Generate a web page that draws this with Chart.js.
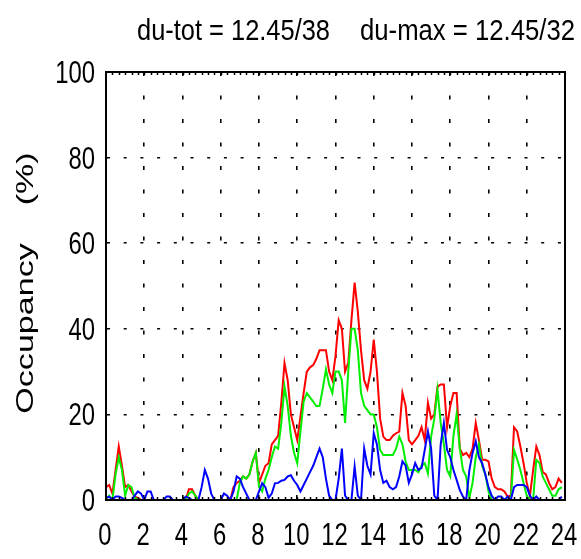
<!DOCTYPE html>
<html>
<head>
<meta charset="utf-8">
<script src="https://cdn.jsdelivr.net/npm/chart.js@4.4.1/dist/chart.umd.min.js"></script>
<style>
  html, body { margin: 0; padding: 0; background: #ffffff; }
  #occ { display: block; }
</style>
</head>
<body>
<canvas id="occ" width="581" height="559"></canvas>
<script>
// Header text and axis labels
const titleParts = ['du-tot = 12.45/38', 'du-max = 12.45/32'];
const yAxisTitle = 'Occupancy    (%)';
const xTickValues = [0, 2, 4, 6, 8, 10, 12, 14, 16, 18, 20, 22, 24];
const yTickValues = [0, 20, 40, 60, 80, 100];

// Samples every 10 minutes over the day (hour of day)
const sampleHours = Array.from({ length: 144 }, (_, i) => i / 6);

// Occupancy (%) per 10-minute sample, one row = 2 hours
const redSeries = [
  3, 3.5, 1.5, 7, 12.5, 8, 3, 3.5, 2, 0.8, 0.5, 0,
  0, 0, 0, 0, 0, 0, 0, 0, 0, 0, 0, 0,
  0, 0, 2.5, 2.5, 1, 0, 0, 0, 0, 0, 0, 0,
  0, 0, 0, 0, 3, 4, 4.5, 5.5, 5, 6, 9, 11,
  4, 6, 8, 8.6, 13, 14, 15, 22.7, 32, 28, 20, 17,
  14, 19.5, 25, 30, 31, 31.5, 33, 35, 35, 35, 30, 28,
  33.6, 42, 40, 30, 32, 42, 50.8, 44, 35, 28, 26, 30,
  37.5, 30, 19, 14.8, 14, 14, 15, 15.6, 16, 25, 22, 14,
  13, 14, 15, 17, 14, 22.7, 19, 20, 26.5, 27, 27, 17,
  22, 25, 25, 12, 10.5, 11, 10, 12, 18, 14, 9.4, 9.4,
  9, 5, 3, 2.5, 2.5, 2, 0.8, 1, 17, 16, 12.5, 8.6,
  4, 1, 7, 12.5, 10.5, 6.5, 6, 4, 2.5, 3, 5, 4
];
const greenSeries = [
  0, 1, 0, 6, 10, 7, 1, 3.5, 3, 0.5, 0, 0,
  0, 0, 0, 0, 0, 0, 0, 0, 0, 0, 0, 0,
  0, 0, 1.5, 2, 1, 0, 0, 0, 0, 0, 0, 0,
  0, 0, 0, 0, 0, 0, 4, 5.5, 5, 6, 9, 11,
  3, 2, 5, 7, 10, 12.5, 12, 18, 26.5, 22, 15, 11,
  8.6, 16, 23, 25, 24, 23, 21.9, 22, 26, 30.5, 27, 25,
  30, 30, 28, 18, 30, 40, 40, 35, 25, 22, 21, 20,
  20, 17, 11.7, 10.5, 10.5, 10.5, 10.5, 12, 14.8, 13, 9, 7,
  7, 7, 6.5, 8, 8.6, 6.2, 14.8, 19, 25.8, 18, 13, 7,
  5.5, 15, 20, 12, 7, 5.5, 0.5, 4, 10, 13, 8, 6,
  2, 0, 0, 0, 0, 0, 0, 0, 11.7, 9.5, 7, 4,
  1, 0, 0, 9.4, 8.6, 5.5, 4, 2.5, 1, 1, 2.5, 3
];
const blueSeries = [
  0.5, 0.8, 0, 0.8, 0.8, 0.5, 0, 0, 0, 1, 2, 1.5,
  0, 2, 2, 0, 0, 0, 0, 0.8, 0.8, 0, 0, 0,
  0, 0.8, 0.5, 0, 0, 0, 3, 7, 5, 1.5, 0, 0,
  0, 1.5, 1, 0, 2, 5.5, 5, 3, 1.5, 0, 0, 0,
  2, 3.9, 3, 0.5, 1.5, 3.9, 4, 4.5, 4.7, 5.5, 5.8, 4.5,
  3.5, 2, 3.5, 5, 6.5, 8, 10, 12, 10, 5, 1, 0,
  0, 5, 12, 1, 0, 0, 7.8, 1, 0, 12, 8, 6,
  15.6, 13, 7, 4, 4.5, 3, 2.5, 3, 5.5, 9, 8, 4,
  6, 8.6, 7, 7.5, 11.7, 16, 12, 1, 0, 13, 18, 11.7,
  10, 7, 4.7, 2.3, 0.8, 0, 7, 11, 13.7, 10, 8.6, 6,
  3, 1, 0, 0.8, 0.8, 0, 0.8, 0, 3, 3.5, 3.5, 3.5,
  3, 1, 0, 0.8, 0, 0, 0, 0, 0, 0, 0, 0.8
];

const textFont = "'Liberation Sans', Arimo, Arial, sans-serif";
const toPoints = (vals) => vals.map((v, i) => ({ x: sampleHours[i], y: v }));

// Tall, narrow text: draw with a horizontal squeeze factor
function squeezedText(ctx, text, x, y, size, squeeze, align) {
  ctx.font = `${size}px ${textFont}`;
  const w = ctx.measureText(text).width * squeeze;
  let left = x;
  if (align === 'center') left = x - w / 2;
  else if (align === 'right') left = x - w;
  ctx.textAlign = 'left';
  ctx.fillText(text, left, y, w);
}

// Frame, inward minor ticks (every 20 minutes), tick labels and titles
const framePlugin = {
  id: 'frame',
  afterDatasetsDraw(chart) {
    const { ctx, chartArea: a, scales: { x } } = chart;
    ctx.save();
    ctx.strokeStyle = '#000';
    ctx.lineWidth = 1.5;
    ctx.beginPath();
    for (let k = 1; k < 72; k++) {
      const px = Math.round(x.getPixelForValue(k / 3)) + 0.5;
      ctx.moveTo(px, a.top); ctx.lineTo(px, a.top + 3);
      ctx.moveTo(px, a.bottom); ctx.lineTo(px, a.bottom - 3);
    }
    ctx.stroke();
    ctx.lineWidth = 2;
    ctx.strokeRect(a.left, a.top, a.right - a.left, a.bottom - a.top);
    ctx.restore();
  },
  afterDraw(chart) {
    const { ctx, chartArea: a, scales: { x, y } } = chart;
    ctx.save();
    ctx.fillStyle = '#000';
    ctx.textBaseline = 'alphabetic';

    // tick labels
    x.ticks.forEach(t => {
      squeezedText(ctx, String(t.value), x.getPixelForValue(t.value) - 1, a.bottom + 45, 31, 0.77, 'center');
    });
    y.ticks.forEach(t => {
      squeezedText(ctx, String(t.value), a.left - 11, y.getPixelForValue(t.value) + 11, 31, 0.77, 'right');
    });

    // header
    ctx.font = `30px ${textFont}`;
    ctx.textAlign = 'left';
    ctx.fillText(titleParts[0], 137, 40, 193);
    ctx.fillText(titleParts[1], 360, 40, 215);

    // rotated axis title, stretched along its reading direction
    ctx.translate(33, (a.top + a.bottom) / 2 - 3);
    ctx.rotate(-Math.PI / 2);
    ctx.scale(1.42, 1);
    ctx.font = `24px ${textFont}`;
    ctx.textAlign = 'center';
    ctx.fillText(yAxisTitle, 0, 0);
    ctx.restore();
  }
};

const lineStyle = (color, order) => ({
  borderColor: color,
  backgroundColor: color,
  borderWidth: 2,
  pointRadius: 0,
  tension: 0,
  fill: false,
  order
});

new Chart(document.getElementById('occ'), {
  type: 'line',
  data: {
    datasets: [
      { label: 'red', data: toPoints(redSeries), ...lineStyle('#ff0000', 2) },
      { label: 'green', data: toPoints(greenSeries), ...lineStyle('#00ee00', 1) },
      { label: 'blue', data: toPoints(blueSeries), ...lineStyle('#0000ff', 0) }
    ]
  },
  options: {
    responsive: false,
    animation: false,
    events: [],
    layout: { padding: { top: 72, right: 16, left: 0, bottom: 0 } },
    plugins: { legend: { display: false }, tooltip: { enabled: false }, title: { display: false } },
    scales: {
      x: {
        type: 'linear',
        min: 0,
        max: 24,
        afterFit(s) { s.height = 59; },
        afterBuildTicks(s) { s.ticks = xTickValues.map(v => ({ value: v })); },
        ticks: { display: false },
        grid: {
          color: (c) => (c.tick && (c.tick.value === 0 || c.tick.value === 24)) ? 'rgba(0,0,0,0)' : '#000',
          lineWidth: 1.6,
          drawTicks: false
        },
        border: { display: true, color: '#000', width: 2, dash: [4, 19.5] }
      },
      y: {
        min: 0,
        max: 100,
        afterFit(s) { s.width = 106; },
        afterBuildTicks(s) { s.ticks = yTickValues.map(v => ({ value: v })); },
        ticks: { display: false },
        grid: {
          color: (c) => (c.tick && (c.tick.value === 0 || c.tick.value === 100)) ? 'rgba(0,0,0,0)' : '#000',
          lineWidth: 1.6,
          drawTicks: false
        },
        border: { display: true, color: '#000', width: 2, dash: [3, 13.7] }
      }
    }
  },
  plugins: [framePlugin]
});
</script>
</body>
</html>
